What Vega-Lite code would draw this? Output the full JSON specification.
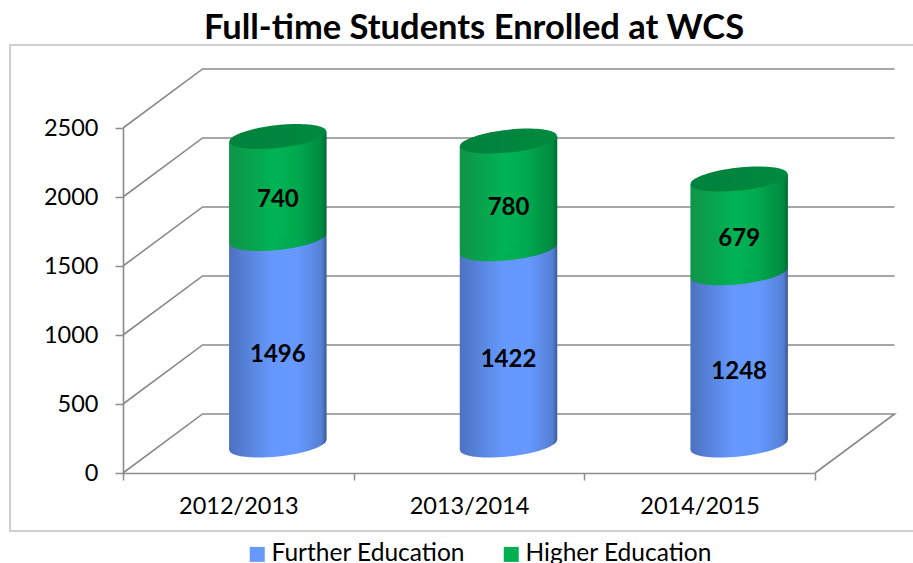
{
"$schema":"https://vega.github.io/schema/vega-lite/v6.json",
"width":692,"height":345,"autosize":"none",
"padding":{"left":123,"top":128,"right":98,"bottom":90},
"background":"white",
"title":{"text":"Full-time Students Enrolled at WCS","font":"Lato","fontWeight":"bold","fontSize":34.5,"color":"#000000","anchor":"middle","dx":5,"offset":-29,"baseline":"alphabetic"},
"config":{"view":{"stroke":null},"font":"Lato"},
"resolve":{"scale":{"x":"independent"}},
"layer":[
{"data":{"values":[{"x0":-0.49,"x1":3.6,"y0":-420,"y1":3101}]},
 "mark":{"type":"rect","fill":null,"stroke":"#cfcfcf","strokeWidth":2},
 "encoding":{"x":{"field":"x0","type":"quantitative","scale":{"domain":[0,3],"nice":false,"zero":false},"axis":null},"x2":{"field":"x1"},
 "y":{"field":"y0","type":"quantitative","scale":{"domain":[0,2500],"nice":false},"axis":{"values":[0,500,1000,1500,2000,2500],"format":"d","title":null,"grid":false,"domainColor":"#8c8c8c","domainWidth":1.6,"tickColor":"#8c8c8c","tickWidth":1.5,"tickSize":8,"labelFont":"Lato","labelFontSize":23.5,"labelColor":"#000000","labelPadding":17}},"y2":{"field":"y1"}}},
{"data":{"values":[
{"l":"g0","o":0,"x":0,"y":0},{"l":"g0","o":1,"x":0.345,"y":428},{"l":"g0","o":2,"x":3.345,"y":428},{"l":"g0","o":3,"x":3,"y":0},
{"l":"g1","o":0,"x":0,"y":500},{"l":"g1","o":1,"x":0.345,"y":928},{"l":"g1","o":2,"x":3.345,"y":928},
{"l":"g2","o":0,"x":0,"y":1000},{"l":"g2","o":1,"x":0.345,"y":1428},{"l":"g2","o":2,"x":3.345,"y":1428},
{"l":"g3","o":0,"x":0,"y":1500},{"l":"g3","o":1,"x":0.345,"y":1928},{"l":"g3","o":2,"x":3.345,"y":1928},
{"l":"g4","o":0,"x":0,"y":2000},{"l":"g4","o":1,"x":0.345,"y":2428},{"l":"g4","o":2,"x":3.345,"y":2428},
{"l":"g5","o":0,"x":0,"y":2500},{"l":"g5","o":1,"x":0.345,"y":2928},{"l":"g5","o":2,"x":3.345,"y":2928}
]},
 "mark":{"type":"line","color":"#8a8a8a","strokeWidth":1.6},
 "encoding":{"x":{"field":"x","type":"quantitative","scale":{"domain":[0,3],"nice":false,"zero":false},"axis":null},
 "y":{"field":"y","type":"quantitative"},"detail":{"field":"l"},"order":{"field":"o"}}},
{"data":{"values":[
{"year":"2012/2013","series":"Further Education","value":1496,"rank":1},
{"year":"2012/2013","series":"Higher Education","value":740,"rank":2},
{"year":"2013/2014","series":"Further Education","value":1422,"rank":1},
{"year":"2013/2014","series":"Higher Education","value":780,"rank":2},
{"year":"2014/2015","series":"Further Education","value":1248,"rank":1},
{"year":"2014/2015","series":"Higher Education","value":679,"rank":2}
]},
"transform":[{"stack":"value","groupby":["year"],"sort":[{"field":"rank","order":"ascending"}],"as":["y0","y1"]},{"calculate":"(datum.y0+datum.y1)/2","as":"ym"}],
"encoding":{"x":{"field":"year","type":"nominal","sort":null,"scale":{"paddingInner":0,"paddingOuter":0},"axis":{"title":null,"labelAngle":0,"domainColor":"#8c8c8c","domainWidth":1.6,"tickColor":"#8c8c8c","tickWidth":1.5,"tickSize":7,"tickBand":"extent","labelFont":"Lato","labelFontSize":23.5,"labelColor":"#000000","labelPadding":14}}},
"layer":[
{"mark":{"type":"bar","size":30,"xOffset":39.5,"yOffset":-28,"y2Offset":-28},
 "encoding":{"y":{"field":"y0","type":"quantitative"},"y2":{"field":"y1"},
 "color":{"field":"series","type":"nominal","scale":{"domain":["Further Education","Higher Education"],"range":["#6699ff","#00b050"]},
 "legend":{"title":null,"orient":"none","legendX":122,"legendY":414,"direction":"horizontal","symbolType":"square","symbolSize":225,"symbolStrokeWidth":0,"labelFont":"Lato","labelFontSize":24.5,"labelColor":"#000000","labelOffset":2,"columnPadding":34,"labelLimit":300}}}},
{"transform":[{"filter":"datum.rank==1"}],
 "mark":{"type":"point","filled":true,"opacity":1,"size":9409,"xOffset":39.5,"yOffset":-28,"shape":"M1,-0.103C1,0.028,0.552,0.18,0,0.237C-0.552,0.294,-1,0.234,-1,0.103C-1,-0.028,-0.552,-0.18,0,-0.237C0.552,-0.294,1,-0.234,1,-0.103Z",
 "fill":{"x1":0,"x2":1,"y1":0,"y2":0,"gradient":"linear","stops":[{"offset":0,"color":"#4c72c0"},{"offset":0.45,"color":"#6699ff"},{"offset":0.7,"color":"#6699ff"},{"offset":0.95,"color":"#5580d5"},{"offset":1,"color":"#3a5a94"}]}},
 "encoding":{"y":{"field":"y0","type":"quantitative"}}},
{"transform":[{"filter":"datum.rank==1"}],
 "mark":{"type":"bar","size":49,"xOffset":15.25,"yOffset":-23,"y2Offset":-23,
 "fill":{"x1":0,"x2":1,"y1":0,"y2":0,"gradient":"linear","stops":[{"offset":0,"color":"#4c72c0"},{"offset":0.9,"color":"#6699ff"},{"offset":1,"color":"#6699ff"}]}},
 "encoding":{"y":{"field":"y0","type":"quantitative"},"y2":{"field":"y1"}}},
{"transform":[{"filter":"datum.rank==1"}],
 "mark":{"type":"bar","size":49,"xOffset":63.75,"yOffset":-33,"y2Offset":-33,
 "fill":{"x1":0,"x2":1,"y1":0,"y2":0,"gradient":"linear","stops":[{"offset":0,"color":"#6699ff"},{"offset":0.4,"color":"#6699ff"},{"offset":0.9,"color":"#5580d5"},{"offset":1,"color":"#3a5a94"}]}},
 "encoding":{"y":{"field":"y0","type":"quantitative"},"y2":{"field":"y1"}}},
{"transform":[{"filter":"datum.rank==2"}],
 "mark":{"type":"point","filled":true,"opacity":1,"size":9409,"xOffset":39.5,"yOffset":-28,"shape":"M1,-0.103C1,0.028,0.552,0.18,0,0.237C-0.552,0.294,-1,0.234,-1,0.103C-1,-0.028,-0.552,-0.18,0,-0.237C0.552,-0.294,1,-0.234,1,-0.103Z",
 "fill":{"x1":0,"x2":1,"y1":0,"y2":0,"gradient":"linear","stops":[{"offset":0,"color":"#0f9447"},{"offset":0.45,"color":"#00b354"},{"offset":0.7,"color":"#00a84e"},{"offset":0.95,"color":"#008a40"},{"offset":1,"color":"#006b33"}]}},
 "encoding":{"y":{"field":"y0","type":"quantitative"}}},
{"transform":[{"filter":"datum.rank==2"}],
 "mark":{"type":"bar","size":49,"xOffset":15.25,"yOffset":-23,"y2Offset":-23,
 "fill":{"x1":0,"x2":1,"y1":0,"y2":0,"gradient":"linear","stops":[{"offset":0,"color":"#0f9447"},{"offset":0.9,"color":"#00b354"},{"offset":1,"color":"#00b354"}]}},
 "encoding":{"y":{"field":"y0","type":"quantitative"},"y2":{"field":"y1"}}},
{"transform":[{"filter":"datum.rank==2"}],
 "mark":{"type":"bar","size":49,"xOffset":63.75,"yOffset":-33,"y2Offset":-33,
 "fill":{"x1":0,"x2":1,"y1":0,"y2":0,"gradient":"linear","stops":[{"offset":0,"color":"#00b354"},{"offset":0.4,"color":"#00a84e"},{"offset":0.9,"color":"#008a40"},{"offset":1,"color":"#006b33"}]}},
 "encoding":{"y":{"field":"y0","type":"quantitative"},"y2":{"field":"y1"}}},
{"transform":[{"filter":"datum.rank==2"}],
 "mark":{"type":"point","filled":true,"opacity":1,"size":9409,"xOffset":39.5,"yOffset":-28,"shape":"M1,-0.103C1,0.028,0.552,0.18,0,0.237C-0.552,0.294,-1,0.234,-1,0.103C-1,-0.028,-0.552,-0.18,0,-0.237C0.552,-0.294,1,-0.234,1,-0.103Z",
 "fill":{"x1":0,"x2":1,"y1":0,"y2":0,"gradient":"linear","stops":[{"offset":0,"color":"#00823c"},{"offset":1,"color":"#008a40"}]}},
 "encoding":{"y":{"field":"y1","type":"quantitative"}}},
{"mark":{"type":"text","font":"Lato","fontWeight":"bold","fontSize":24,"color":"#000000","xOffset":39.5,"yOffset":-15,"baseline":"middle"},
 "encoding":{"y":{"field":"ym","type":"quantitative"},"text":{"field":"value","type":"quantitative"}}}
]}
]}
